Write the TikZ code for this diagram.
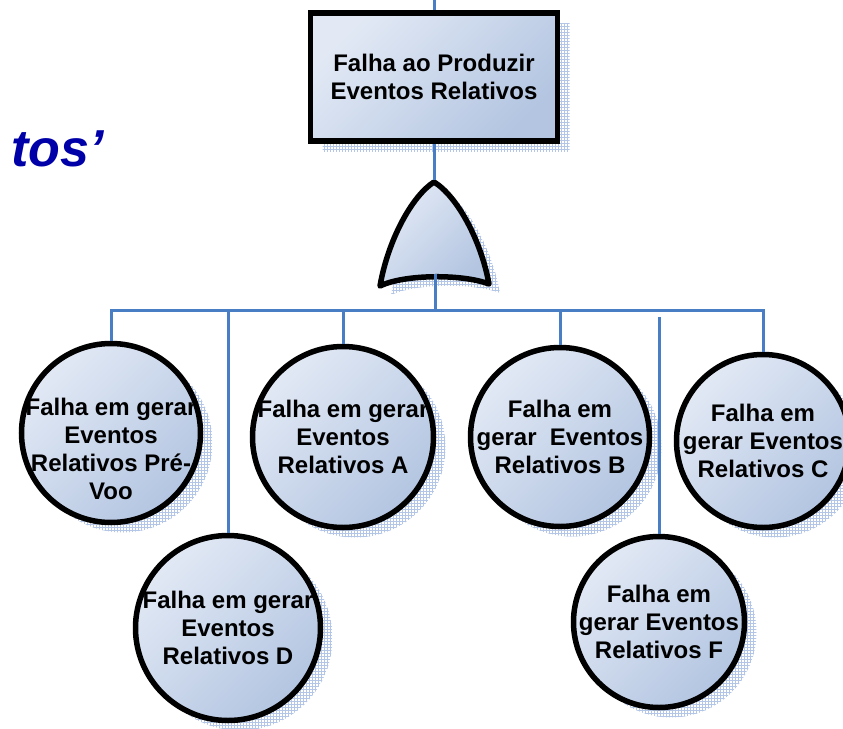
\documentclass[tikz,border=0pt]{standalone}
\usepackage{fontspec}
\setmainfont{Liberation Sans}
\usetikzlibrary{shapes}
\usetikzlibrary{shadows}
\usetikzlibrary{patterns}
\definecolor{linkblue}{HTML}{4A7EC4}
\definecolor{fillhi}{HTML}{E2E9F5}
\definecolor{filllo}{HTML}{B3C5E1}
\definecolor{meshblue}{HTML}{B4C6E8}
\definecolor{titleblue}{HTML}{0000A8}
\tikzset{
	conn/.style={
		draw=linkblue,
		line width=3pt,
	},
	mesh/.style={
		pattern=grid,
		pattern color=meshblue,
	},
	ev/.style={
		draw=black,
		line width=5.5pt,
		top color=fillhi,
		bottom color=filllo,
		shading angle=45,
		general shadow={shadow xshift=12pt, shadow yshift=-10pt, mesh},
		font=\bfseries\fontsize{24}{28}\selectfont,
		align=center,
		inner sep=0pt,
	},
	lbl/.style={
		font=\bfseries\fontsize{24}{28}\selectfont,
		align=center,
		inner sep=0pt,
	},
	topev/.style={
		ev,
		rectangle,
		minimum width=247pt,
		minimum height=128pt,
	},
	basic/.style={
		ev,
		circle,
	},
}

\begin{document}
\begin{tikzpicture}[x=1pt, y=-1pt]
		\useasboundingbox (0,0) rectangle (843,728);

		\node[anchor=base west, text=titleblue, font=\bfseries\itshape\fontsize{52}{60}\selectfont] (titulo) at (8,166) {tos’};

		\node[topev] (falha) at (434,77) {Falha ao Produzir\\Eventos Relativos};

		% porta OU
		\fill[mesh, shift={(11,9)}] (434,182) .. controls (412,196) and (388,240) .. (380,286)
			.. controls (405,274) and (463,274) .. (489,284)
			.. controls (481,240) and (457,196) .. cycle;
		\draw[line width=5.5pt, line join=round, top color=fillhi, bottom color=filllo, shading angle=45]
			(434,182) .. controls (412,196) and (388,240) .. (380,286)
			.. controls (405,274) and (463,274) .. (489,284)
			.. controls (481,240) and (457,196) .. cycle;
		\coordinate (gatetop) at (434,180);
		\coordinate (gatebot) at (435,274);

		\node[basic, minimum size=179pt, label={[lbl, yshift=-16pt]center:Falha em gerar\\Eventos\\Relativos Pré-\\Voo}] (prevoo) at (111,433) {};
		\node[basic, minimum size=181pt, label={[lbl]center:Falha em gerar\\Eventos\\Relativos A}] (relA) at (343,437) {};
		\node[basic, minimum size=179pt, label={[lbl]center:Falha em\\gerar\ \ Eventos\\Relativos B}] (relB) at (560,437) {};
		\node[basic, minimum size=173pt, label={[lbl]center:Falha em\\gerar Eventos\\Relativos C}] (relC) at (763,441) {};
		\node[basic, minimum size=185pt, label={[lbl]center:Falha em gerar\\Eventos\\Relativos D}] (relD) at (228,628) {};
		\node[basic, minimum size=171pt, label={[lbl]center:Falha em\\gerar Eventos\\Relativos F}] (relF) at (659,622) {};

		\coordinate (feed) at (434,0);
		\coordinate (bus) at (435,310);
		\coordinate (fgap) at (659,317);

		\draw[conn] (feed) -- (falha.north);
		\draw[conn] (falha.south) -- (gatetop);
		\draw[conn] (gatebot) -- (bus);
		\draw[conn] (prevoo.north) |- (bus -| relC.north) -- (relC.north);
		\draw[conn] (relA.north |- bus) -- (relA.north);
		\draw[conn] (relB.north |- bus) -- (relB.north);
		\draw[conn] (relD.north |- bus) -- (relD.north);
		\draw[conn] (fgap) -- (relF.north);

	\end{tikzpicture}
\end{document}
